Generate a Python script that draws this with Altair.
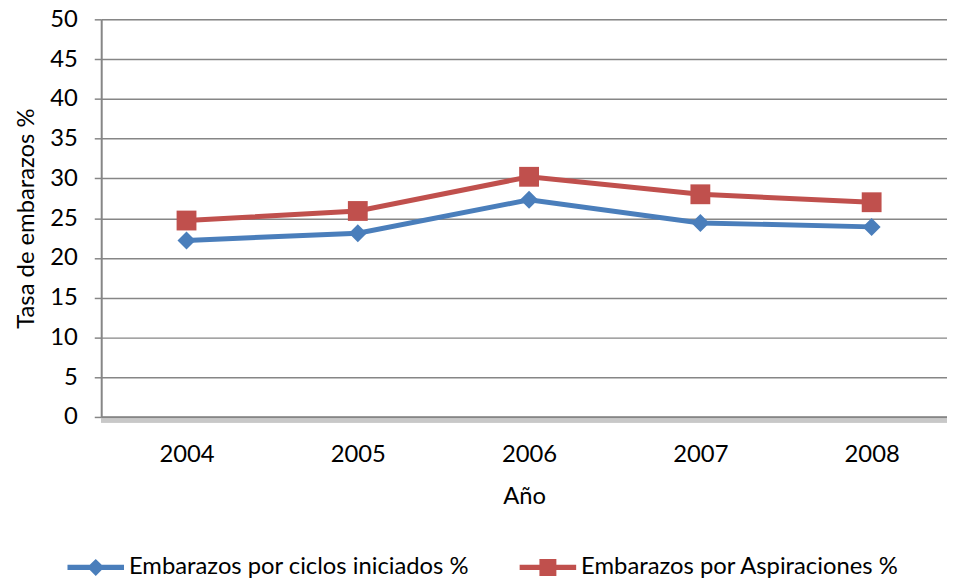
import altair as alt
import pandas as pd

years = ["2004", "2005", "2006", "2007", "2008"]
series_names = ["Embarazos por ciclos iniciados %", "Embarazos por Aspiraciones %"]
ciclos = [22.2, 23.1, 27.3, 24.4, 23.9]
aspiraciones = [24.7, 25.9, 30.2, 28.0, 27.0]
y_ticks = [0, 5, 10, 15, 20, 25, 30, 35, 40, 45, 50]

colors = ["#4A7EBB", "#C0504D"]
marker_shapes = ["diamond", "square"]
marker_sizes = [330, 400]
legend_shapes = [
    "M-1,-0.09 L-0.21,-0.09 L0,-0.3 L0.21,-0.09 L1,-0.09 L1,0.09 L0.21,0.09 L0,0.3 L-0.21,0.09 L-1,0.09 Z",
    "M-1,-0.09 L-0.3,-0.09 L-0.3,-0.3 L0.3,-0.3 L0.3,-0.09 L1,-0.09 L1,0.09 L0.3,0.09 L0.3,0.3 L-0.3,0.3 L-0.3,0.09 L-1,0.09 Z",
]

rows = []
for name, vals in zip(series_names, [ciclos, aspiraciones]):
    for yr, v in zip(years, vals):
        rows.append({"Año": yr, "Serie": name, "Valor": v})
df = pd.DataFrame(rows)

FONT = "Lato"
FS = 24
GRID = "#868686"

x_axis = alt.Axis(
    title="Año", labelAngle=0, ticks=False, tickSize=0, labelPadding=26,
    titlePadding=18, domainColor=GRID, domainWidth=2.5,
    labelFontSize=FS, titleFontSize=FS, labelFont=FONT, titleFont=FONT,
    titleFontWeight="normal", labelColor="#000", titleColor="#000", grid=False,
)
y_axis = alt.Axis(
    title="Tasa de embarazos %", values=y_ticks, labelOverlap=False,
    tickSize=7, tickColor=GRID, tickWidth=1.5, labelPadding=17, titlePadding=11,
    domainColor=GRID, domainWidth=2, gridColor=GRID, gridWidth=1.5, labelFontSize=FS,
    titleFontSize=FS, labelFont=FONT, titleFont=FONT, titleFontWeight="normal",
    labelColor="#000", titleColor="#000",
)
y_scale = alt.Scale(domain=[0, 50], nice=False, zero=True)

x_enc = alt.X(
    "Año:N", sort=years,
    scale=alt.Scale(type="point", padding=0.469, align=0.531),
    axis=x_axis,
)
y_enc = alt.Y("Valor:Q", scale=y_scale, axis=y_axis)

base = alt.Chart(df)

layers = []
for name, col in zip(series_names, colors):
    sub = base.transform_filter(alt.datum.Serie == name)
    layers.append(sub.mark_line(strokeWidth=5, color=col).encode(x=x_enc, y=y_enc))
for name, col, shp, sz in zip(series_names, colors, marker_shapes, marker_sizes):
    sub = base.transform_filter(alt.datum.Serie == name)
    layers.append(
        sub.mark_point(filled=True, opacity=1, color=col, shape=shp, size=sz).encode(x=x_enc, y=y_enc)
    )
# soft shadow under the category axis
layers.append(
    base.mark_rule(color="#c8c8c8", strokeWidth=4, opacity=0.45, yOffset=3.5).encode(
        y=alt.datum(0, type="quantitative", scale=y_scale, axis=y_axis)
    )
)

leg = alt.Legend(
    title=None, orient="none", legendX=-34, legendY=524, direction="horizontal",
    symbolSize=3249, symbolOpacity=1, symbolStrokeWidth=0, labelFontSize=FS,
    labelFont=FONT, labelColor="#000", labelLimit=0, columnPadding=50, labelOffset=5,
)
legend_layer = base.mark_point(filled=True, opacity=0).encode(
    x=x_enc, y=y_enc,
    color=alt.Color("Serie:N", scale=alt.Scale(domain=series_names, range=colors), legend=leg),
    shape=alt.Shape("Serie:N", scale=alt.Scale(domain=series_names, range=legend_shapes), legend=leg),
)
layers.append(legend_layer)

chart = (
    alt.layer(*layers)
    .properties(
        width=853, height=401,
        padding={"left": 94, "top": 9, "right": 0, "bottom": 161},
        autosize=alt.AutoSizeParams(type="none"),
    )
    .configure_view(stroke=None)
    .configure(background="white")
)

chart.save("out.html", embed_options={"renderer": "svg", "actions": False})
